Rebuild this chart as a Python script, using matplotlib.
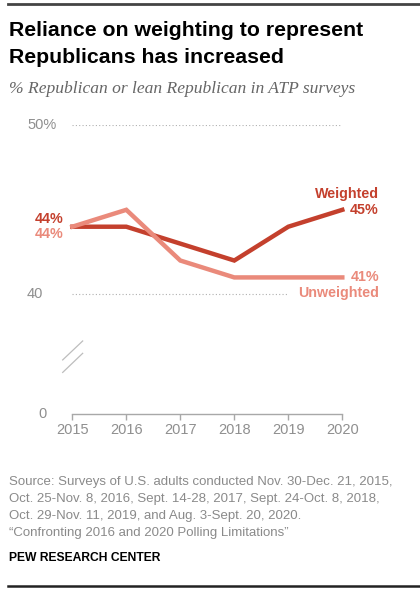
import matplotlib
matplotlib.use("Agg")
import matplotlib.pyplot as plt
import matplotlib.transforms as mtransforms

# Datos
years = [2015, 2016, 2017, 2018, 2019, 2020]
weighted = [44, 44, 43, 42, 44, 45]
unweighted = [44, 45, 42, 41, 41, 41]
ytick_vals = [50, 40]
ytick_text = ["50%", "40"]
xtick_text = ["2015", "2016", "2017", "2018", "2019", "2020"]

source_lines = [
    "Source: Surveys of U.S. adults conducted Nov. 30-Dec. 21, 2015,",
    "Oct. 25-Nov. 8, 2016, Sept. 14-28, 2017, Sept. 24-Oct. 8, 2018,",
    "Oct. 29-Nov. 11, 2019, and Aug. 3-Sept. 20, 2020.",
    "\u201cConfronting 2016 and 2020 Polling Limitations\u201d",
]

c_w = "#c4402d"
c_u = "#ea8a7b"
gris = "#8f8f8f"

W, H = 420, 593
fig = plt.figure(figsize=(W / 100, H / 100), dpi=100)
plt.rcParams["font.family"] = ["Liberation Sans", "DejaVu Sans"]

# eje roto: el "0" se dibuja justo debajo del 40
piso = 32.92
ax = fig.add_axes([72.3 / W, 1 - 414 / H, 270 / W, (414 - 125.3) / H])
ax.set_xlim(2015, 2020)
ax.set_ylim(piso, 50)

for s in ["top", "right", "left"]:
    ax.spines[s].set_visible(False)
ax.spines["bottom"].set_color("#a8a8a8")
ax.spines["bottom"].set_linewidth(1.0)
ax.set_yticks([])
ax.set_xticks(years)
ax.set_xticklabels(xtick_text, fontsize=10.5, color=gris)
ax.tick_params(axis="x", length=4.5, width=1, color="#a8a8a8", pad=2)

# lineas de referencia punteadas
ax.hlines(50, 2015, 2020, colors="#b0b0b0", linestyles=(0, (1, 2)), linewidth=0.8)
ax.hlines(40, 2015, 2019, colors="#b0b0b0", linestyles=(0, (1, 2)), linewidth=0.8)

ax.plot(years, weighted, color=c_w, linewidth=3.2, solid_joinstyle="miter", clip_on=False, zorder=3)
ax.plot(years, unweighted, color=c_u, linewidth=3.2, solid_joinstyle="miter", clip_on=False, zorder=4)

# etiquetas del eje y
tr = mtransforms.blended_transform_factory(fig.transFigure, ax.transData)
for v, t in zip(ytick_vals, ytick_text):
    ax.text(27 / W, v, t, transform=tr, fontsize=10.5, color=gris, ha="left", va="center")
ax.text(38 / W, piso, "0", transform=tr, fontsize=10.5, color=gris, ha="left", va="center")

# marcas de corte
ax.plot([2015 - 0.178, 2015 + 0.192], [36.12, 37.24], color="#bdbdbd", lw=0.9, clip_on=False)
ax.plot([2015 - 0.178, 2015 + 0.192], [35.38, 36.51], color="#bdbdbd", lw=0.9, clip_on=False)

# etiquetas de datos
off = mtransforms.offset_copy(ax.transData, fig=fig, x=-9, y=0, units="dots")
ax.text(years[0], weighted[0] + 0.45, f"{weighted[0]}%", transform=off, ha="right", va="center",
        fontsize=10.3, fontweight="bold", color=c_w)
ax.text(years[0], unweighted[0] - 0.45, f"{unweighted[0]}%", transform=off, ha="right", va="center",
        fontsize=10.3, fontweight="bold", color=c_u)

xr = 2015 + (379 - 72.3) / 54
ax.text(xr, weighted[-1] + 0.95, "Weighted", ha="right", va="center", fontsize=10.3,
        fontweight="bold", color=c_w)
ax.text(xr, weighted[-1], f"{weighted[-1]}%", ha="right", va="center", fontsize=10.3,
        fontweight="bold", color=c_w)
ax.text(xr, unweighted[-1], f"{unweighted[-1]}%", ha="right", va="center", fontsize=10.3,
        fontweight="bold", color=c_u)
ax.text(xr, unweighted[-1] - 0.95, "Unweighted", ha="right", va="center", fontsize=10.3,
        fontweight="bold", color=c_u)

# titulo y subtitulo
fig.add_artist(plt.Line2D([8 / W, 1], [1 - 3.5 / H, 1 - 3.5 / H], color="#444444", lw=2))
fig.text(9 / W, 1 - 21 / H, "Reliance on weighting to represent\nRepublicans has increased",
         ha="left", va="top", fontsize=15.3, fontweight="bold", color="black", linespacing=1.52)
fig.text(9 / W, 1 - 89 / H, "% Republican or lean Republican in ATP surveys", ha="left", va="center",
         fontsize=12.6, style="italic", family=["Liberation Serif", "DejaVu Serif"], color="#666666")

# fuente
for i, line in enumerate(source_lines):
    fig.text(9 / W, 1 - (481.7 + 17.2 * i) / H, line, ha="left", va="center", fontsize=9.55, color="#8a8a8a")
fig.text(9 / W, 1 - 558 / H, "PEW RESEARCH CENTER", ha="left", va="center", fontsize=8.7,
         fontweight="bold", color="black")
fig.add_artist(plt.Line2D([8 / W, 1], [1 - 586 / H, 1 - 586 / H], color="#222222", lw=1.8))

fig.savefig("out.png", dpi=100)
